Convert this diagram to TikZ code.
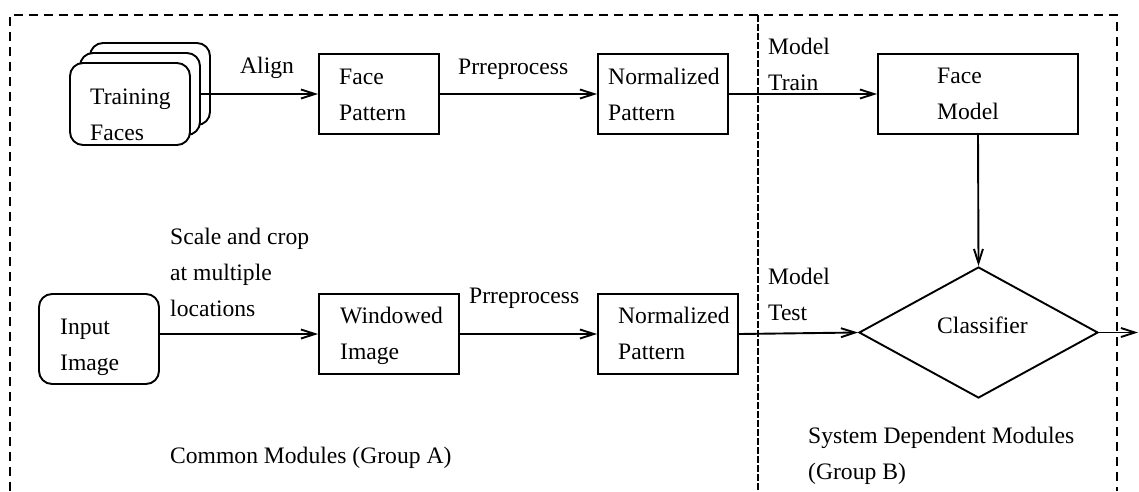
\documentclass[tikz,border=0pt]{standalone}
\usepackage{fontspec}
\setmainfont{Liberation Serif}
\usetikzlibrary{arrows.meta,shapes.geometric}
% left-aligned block of lines whose baseline is that of its first line
\newcommand\textlines[1]{\vtop{\halign{##\hfil\cr#1\crcr}}}
\begin{document}
\begin{tikzpicture}[x=1pt,y=-1pt,
  box/.style={draw, line width=1.9pt, inner sep=0pt, fill=white},
  rbox/.style={box, rounded corners=13pt},
  txt/.style={inner sep=0pt, anchor=base west},
  flow/.style={line width=1.9pt, -{Straight Barb[length=14pt,width=9pt]}},
  group/.style={line width=1.7pt, dash pattern=on 9pt off 6pt},
  divider/.style={line width=1.2pt, dash pattern=on 7pt off 2pt},
  every node/.style={font=\fontsize{23.6}{36}\selectfont}]
\useasboundingbox (0,0) rectangle (1139,491);

% group borders
\draw[group] (10,491) -- (10,15) -- (1117,15) -- (1117,491);
\draw[divider] (758,15) -- (758,491);

% training branch
\node[rbox, minimum width=120pt, minimum height=82pt] (tf3) at (150,84) {};
\node[rbox, minimum width=120pt, minimum height=82pt] (tf2) at (140,94) {};
\node[rbox, minimum width=120pt, minimum height=82pt] (tf1) at (130,104) {};
\node[box, minimum width=120pt, minimum height=80pt] (fp) at (379,94) {};
\node[box, minimum width=130pt, minimum height=80pt] (np1) at (663,94) {};
\node[box, minimum width=200pt, minimum height=80pt] (fm) at (978,94) {};

% test branch
\node[rbox, minimum width=120pt, minimum height=90pt] (ii) at (99,339) {};
\node[box, minimum width=140pt, minimum height=80pt] (wi) at (389,334) {};
\node[box, minimum width=140pt, minimum height=80pt] (np2) at (668,334) {};
\node[box, diamond, minimum width=239pt, minimum height=131pt] (cls) at (978.5,332.5) {};
\coordinate (out) at (1138,332.5);

% texts
\node[txt] (tTraining) at (90,104) {\textlines{Training\cr Faces}};
\node[txt] (tFace) at (339,84) {\textlines{Face\cr Pattern}};
\node[txt] (tNorm1) at (608,84) {\textlines{Normalized\cr Pattern}};
\node[txt] (tModel) at (937,83.5) {\textlines{Face\cr Model}};
\node[txt] (tInput) at (60,334) {\textlines{Input\cr Image}};
\node[txt] (tWin) at (340,323.5) {\textlines{Windowed\cr Image}};
\node[txt] (tNorm2) at (618,323.5) {\textlines{Normalized\cr Pattern}};
\node[txt] (tCls) at (937,333) {Classifier};

\node[txt] (lAlign) at (240,73) {Align};
\node[txt] (lPre1) at (458,74) {Prreprocess};
\node[txt] (lTrain) at (768,54) {\textlines{Model\cr Train}};
\node[txt] (lScale) at (170,244) {\textlines{Scale and crop\cr at multiple\cr locations}};
\node[txt] (lPre2) at (469,303) {Prreprocess};
\node[txt] (lTest) at (768,284) {\textlines{Model\cr Test}};
\node[txt] (lGroupA) at (170,463) {Common Modules (Group A)};
\node[txt] (lGroupB) at (808,443) {\textlines{System Dependent Modules\cr (Group B)}};

% connectors
\draw[flow] (tf2.east) -- (fp.west);
\draw[flow] (fp.east) -- (np1.west);
\draw[flow] (np1.east) -- (fm.west);
\draw[flow] (fm.south) -- (cls.north);
\draw[flow] (ii.east |- wi.west) -- (wi.west);
\draw[flow] (wi.east) -- (np2.west);
\draw[flow] (np2.east) -- (cls.west);
\draw[flow] (cls.east) -- (out);
\end{tikzpicture}
\end{document}
